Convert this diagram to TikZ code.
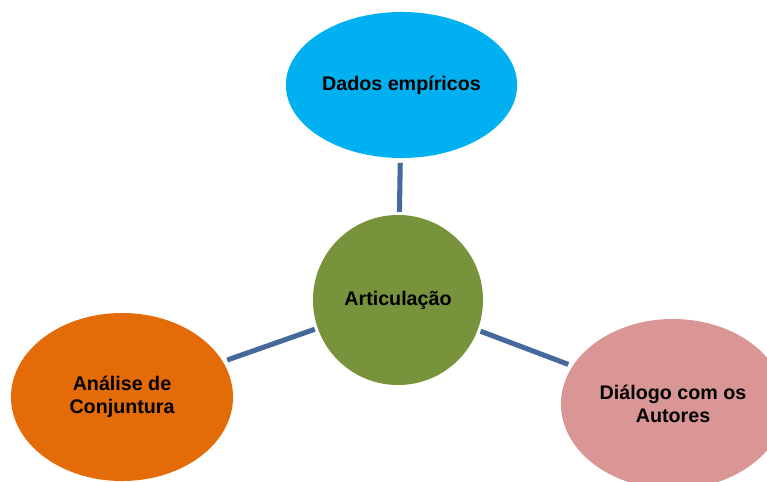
\documentclass[tikz,border=0pt]{standalone}
\usepackage{fontspec}
\setmainfont{Liberation Sans}
\usetikzlibrary{shapes.geometric}
\definecolor{dadoscol}{HTML}{00B0F0}
\definecolor{artcol}{HTML}{77933C}
\definecolor{analisecol}{HTML}{E36C09}
\definecolor{dialogocol}{HTML}{D99694}
\definecolor{linkcol}{HTML}{46699C}
\begin{document}
\begin{tikzpicture}[x=0.025cm,y=-0.025cm,inner sep=0pt,outer sep=0pt,
bubble/.style={ellipse,align=center,font=\fontsize{14}{16}\selectfont\bfseries},
link/.style={draw=linkcol,line width=3.6pt,shorten <=0.12cm,shorten >=0.08cm}]
\useasboundingbox (0,0) rectangle (767,481);
\draw (401.5,85) node[bubble,fill=dadoscol,minimum width=5.78cm,minimum height=3.65cm] (dados) {Dados empíricos};
\draw (398,300) node[bubble,fill=artcol,minimum width=4.25cm,minimum height=4.25cm] (art) {Articulação};
\draw (122,397) node[bubble,fill=analisecol,minimum width=5.55cm,minimum height=4.2cm] (analise) {Análise de\\Conjuntura};
\draw (673,404) node[bubble,fill=dialogocol,minimum width=5.6cm,minimum height=4.25cm] (dialogo) {Diálogo com os\\Autores};
\draw[link] (dados) -- (art);
\draw[link] (analise) -- (art);
\draw[link] (dialogo) -- (art);
\end{tikzpicture}
\end{document}
